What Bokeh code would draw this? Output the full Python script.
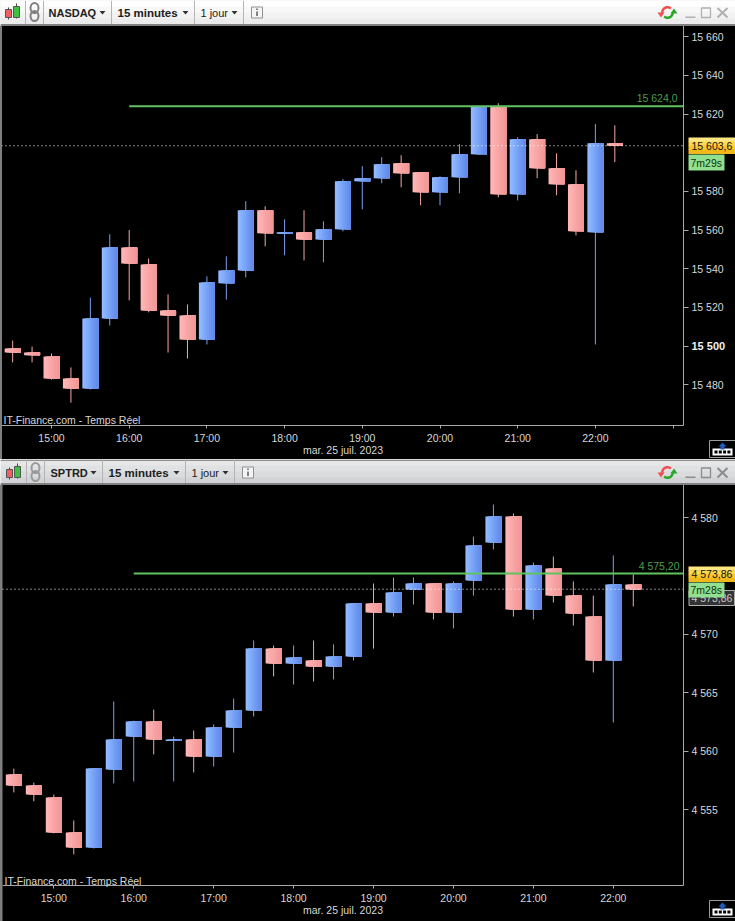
import math
from bokeh.plotting import figure
from bokeh.layouts import column
from bokeh.models import (Range1d, FixedTicker, BoxAnnotation, Label, PolyAnnotation)
from bokeh.core.properties import value
from bokeh.embed import file_html
from bokeh.resources import INLINE

FONT = "Liberation Sans"

# hours of the day, 15-minute candles from 14:30 to 22:15
hours = [14.5 + 0.25 * i for i in range(32)]
hour_ticks = [15, 16, 17, 18, 19, 20, 21, 22, 23]
hour_labels = ["15:00", "16:00", "17:00", "18:00", "19:00", "20:00", "21:00", "22:00", ""]
date_label = "mar. 25 juil. 2023"
source_label = "IT-Finance.com - Temps Réel"

nq_open = [15498.7, 15496.6, 15494.6, 15483.2, 15478.0, 15514.2, 15551.0, 15542.2, 15518.4, 15515.8, 15503.4, 15532.4,
           15539.1, 15570.2, 15558.3, 15558.8, 15555.1, 15560.4, 15585.2, 15586.8, 15594.6, 15589.9, 15579.5, 15587.3,
           15599.2, 15623.6, 15578.5, 15607.0, 15592.0, 15583.7, 15558.8, 15604.9]
nq_close = [15496.6, 15495.2, 15483.2, 15478.0, 15514.2, 15551.0, 15542.7, 15518.4, 15515.8, 15503.4, 15532.9, 15539.1,
            15570.2, 15558.3, 15558.8, 15555.1, 15560.4, 15585.2, 15586.8, 15594.0, 15589.4, 15579.5, 15587.3, 15599.2,
            15623.6, 15578.5, 15607.0, 15592.0, 15583.7, 15559.3, 15604.9, 15603.6]
nq_high = [15502.8, 15499.7, 15496.1, 15488.9, 15525.0, 15557.8, 15560.0, 15545.3, 15526.7, 15521.5, 15536.0, 15546.4,
           15574.9, 15572.3, 15565.5, 15570.2, 15564.5, 15586.3, 15593.0, 15597.7, 15598.7, 15589.9, 15587.8, 15604.4,
           15624.1, 15625.6, 15608.0, 15609.6, 15599.7, 15590.9, 15614.8, 15614.2]
nq_low = [15491.5, 15491.5, 15482.6, 15470.7, 15477.5, 15510.6, 15523.6, 15517.4, 15496.6, 15493.5, 15500.8, 15524.0,
          15535.5, 15551.6, 15546.9, 15544.3, 15543.3, 15559.3, 15570.7, 15584.2, 15582.1, 15572.8, 15572.8, 15579.0,
          15598.9, 15576.9, 15575.3, 15586.8, 15578.0, 15557.2, 15500.8, 15595.1]
nq_ticks = [15480, 15500, 15520, 15540, 15560, 15580, 15620, 15640, 15660]
nq_tick_labels = ["15 480", "", "15 520", "15 540", "15 560", "15 580", "15 620", "15 640", "15 660"]

sp_open = [4558.0, 4557.05, 4556.03, 4553.03, 4551.75, 4558.42, 4561.25, 4562.53, 4560.9, 4561.0, 4559.54, 4562.02,
           4563.48, 4568.78, 4567.5, 4567.76, 4567.24, 4568.1, 4572.64, 4571.87, 4573.84, 4574.35, 4571.87, 4574.61,
           4577.86, 4580.09, 4572.12, 4575.63, 4573.32, 4571.52, 4567.76, 4574.26]
sp_close = [4557.05, 4556.28, 4553.03, 4551.75, 4558.5, 4561.0, 4562.53, 4561.0, 4561.0, 4559.54, 4562.02, 4563.48,
            4568.78, 4567.5, 4568.01, 4567.24, 4568.1, 4572.64, 4571.87, 4573.58, 4574.35, 4571.87, 4574.35, 4577.6,
            4580.09, 4572.12, 4575.89, 4573.32, 4571.78, 4567.76, 4574.26, 4573.84]
sp_high = [4558.5, 4557.3, 4556.28, 4554.06, 4558.5, 4564.25, 4562.6, 4563.56, 4561.25, 4561.76, 4562.28, 4564.5,
           4569.47, 4569.04, 4569.04, 4569.47, 4569.13, 4572.64, 4574.35, 4574.86, 4574.86, 4574.35, 4574.52, 4578.37,
           4581.11, 4580.34, 4576.15, 4576.66, 4574.52, 4573.32, 4576.75, 4575.12]
sp_low = [4556.46, 4555.7, 4552.95, 4551.15, 4551.66, 4557.23, 4557.4, 4559.71, 4557.4, 4558.17, 4558.68, 4559.88,
          4562.96, 4566.39, 4565.7, 4565.96, 4566.13, 4567.76, 4568.78, 4571.52, 4572.55, 4571.27, 4570.5, 4573.32,
          4577.26, 4571.52, 4571.27, 4572.72, 4570.75, 4566.73, 4562.45, 4572.38]
sp_ticks = [4555, 4560, 4565, 4570, 4580]
sp_tick_labels = ["4 555", "4 560", "4 565", "4 570", "4 580"]

BLUE = ["#92baff", "#8ab3ff", "#82acfc", "#7ba5f8", "#749ef4", "#6d97f0", "#6791ec", "#628cea"]
RED = ["#ffb6b6", "#feb1b1", "#fcacac", "#faa7a7", "#f8a3a3", "#f69f9f", "#f49b9b", "#f29797"]
WICK_UP, WICK_DN = "#7d9ff0", "#f2a6a6"
GREEN = "#5fc45f"
AXIS = "#a8a8a8"
TXT = "#d8d8d8"
YEL = ["#ffe680", "#fdd850", "#f8c830", "#f0b818"]
TICK_PX = "10.5px"


def box(p, l, r, t, b, fill, line=None, lw=1):
    p.add_layout(BoxAnnotation(left=l, right=r, top=t, bottom=b, left_units="canvas", right_units="canvas",
                               top_units="canvas", bottom_units="canvas", fill_color=fill, fill_alpha=1 if fill else 0,
                               line_color=line, line_width=lw, line_alpha=1 if line else 0, level="annotation"))


def label(p, x, y, text, color=TXT, size=TICK_PX, style="normal", align="left"):
    p.add_layout(Label(x=x, y=y, x_units="canvas", y_units="canvas", text=text, text_color=color,
                       text_font=FONT, text_font_size=size, text_font_style=style, text_align=align,
                       text_baseline="middle", level="annotation"))


def chart(height, px_hour, x15, v_ref, y_ref, px_val, y_top, opens, closes, highs, lows, ticks, tick_labels,
          xticks, axis_y, left_x, level, last):
    """x15: page x of 15:00; (v_ref, y_ref, px_val): price scale; y_top: page y of the figure top."""
    to_h = lambda px: 15 + (px - x15) / px_hour
    to_v = lambda py: v_ref + (y_ref - py) / px_val
    x0, x1 = to_h(0), to_h(735)
    y1, y0 = to_v(y_top), to_v(y_top + height)
    right_h, left_h = to_h(683), to_h(left_x)
    p = figure(width=735, height=height, x_range=Range1d(x0, x1), y_range=Range1d(y0, y1),
               y_axis_location="right", output_backend="svg", toolbar_location=None,
               background_fill_color="black", border_fill_color="black", outline_line_color=None,
               min_border=0, min_border_left=0, min_border_right=0, min_border_top=0, min_border_bottom=0)
    p.grid.visible = False
    ax = p.xaxis[0]
    ax.fixed_location = to_v(axis_y)
    ax.bounds = (left_h, right_h)
    ax.ticker = FixedTicker(ticks=xticks)
    ax.major_label_overrides = dict(zip(hour_ticks, hour_labels))
    ax.major_label_standoff = 3
    ax.major_tick_out = 3
    ax.major_tick_in = 0
    ax.minor_tick_line_color = None
    ay = p.yaxis[0]
    ay.fixed_location = right_h
    ay.bounds = (to_v(axis_y), y1)
    ay.ticker = FixedTicker(ticks=ticks)
    ay.major_label_overrides = dict(zip(ticks, tick_labels))
    ay.major_tick_out = 5
    ay.major_tick_in = 0
    ay.minor_tick_line_color = None
    ay.major_label_standoff = 3
    for a in (ax, ay):
        a.axis_line_color = AXIS
        a.major_tick_line_color = AXIS
        a.major_label_text_color = TXT
        a.major_label_text_font = FONT
        a.major_label_text_font_size = TICK_PX

    half = 8.0 / px_hour
    wick_col = [WICK_UP if c >= o else WICK_DN for o, c in zip(opens, closes)]
    p.segment(x0=hours, x1=hours, y0=lows, y1=highs, color=wick_col, line_width=1)
    tops = [max(o, c) for o, c in zip(opens, closes)]
    bots = [min(o, c) for o, c in zip(opens, closes)]
    min_h = 1.5 / px_val
    bots = [t - min_h if t - b < min_h else b for t, b in zip(tops, bots)]
    for k in range(8):
        lefts = [h - half + k * 2.0 / px_hour for h in hours]
        rights = [h + half for h in hours]
        cols = [BLUE[k] if c >= o else RED[k] for o, c in zip(opens, closes)]
        p.quad(left=lefts, right=rights, top=tops, bottom=bots, fill_color=cols, line_color=None)

    p.segment(x0=[16.0], x1=[right_h], y0=[level], y1=[level], color=GREEN, line_width=2)
    p.segment(x0=[left_h], x1=[right_h], y0=[last], y1=[last], color="white", line_width=1, line_dash="1 3")
    return p


def corner_icon(p, top):
    box(p, 709, 736, top, top + 17, None, "#9a9a9a")
    box(p, 712, 732, top + 8, top + 15, "white")
    for i in range(4):
        box(p, 714 + i * 4.3, 717 + i * 4.3, top + 10, top + 13, "black")
    p.add_layout(PolyAnnotation(xs=[722, 726, 724, 724, 720, 720, 718], ys=[top + 2, top + 6, top + 6, top + 9, top + 9, top + 6, top + 6],
                                xs_units="canvas", ys_units="canvas", fill_color="#1e5bc0", fill_alpha=1,
                                line_color=None, level="annotation"))


def arc(cx, cy, r0, r1, a0, a1):
    steps = [a0 + (a1 - a0) * i / 14 for i in range(15)]
    xs = [cx + r1 * math.cos(math.radians(a)) for a in steps] + [cx + r0 * math.cos(math.radians(a)) for a in reversed(steps)]
    ys = [cy - r1 * math.sin(math.radians(a)) for a in steps] + [cy - r0 * math.sin(math.radians(a)) for a in reversed(steps)]
    return xs, ys


def chrome(height, tops, seps, name, name_x, min_x, jour_x, info_x, active):
    c = figure(width=735, height=height, x_range=Range1d(0, 735), y_range=Range1d(height, 0),
               output_backend="svg", toolbar_location=None, min_border=0, outline_line_color=None,
               border_fill_color="#dddddd", background_fill_color="#eeeeee")
    c.axis.visible = False
    c.grid.visible = False
    n = len(tops)
    step = (height - 1.0) / n
    c.quad(left=0, right=735, top=[i * step for i in range(n)], bottom=[(i + 1) * step + 0.5 for i in range(n)],
           fill_color=tops, line_color=None)
    c.quad(left=0, right=735, top=height - 1.5, bottom=height, fill_color="#808080", line_color=None)
    if not active:
        c.quad(left=0, right=735, top=0, bottom=1.5, fill_color="#909090", line_color=None)
    c.segment(x0=seps, x1=seps, y0=0, y1=height - 1.5, color="#b4b4b4", line_width=1)
    yc = height / 2 - 0.5 + (1 if not active else 0)
    x = seps[0] - 20
    c.segment(x0=[x + 3, x + 11], x1=[x + 3, x + 11], y0=[yc - 5, yc - 9], y1=[yc + 7, yc + 6], color="#444444")
    c.quad(left=[x, x + 8], right=[x + 6, x + 14], top=[yc - 3, yc - 6], bottom=[yc + 5, yc + 5],
           fill_color=["#f06060", "#40c040"], line_color="#555555")
    lx = seps[0] + 9
    col = "#808080" if active else "#9a9a9a"
    for dy in (-4.5, 3.5):
        c.ellipse(x=[lx], y=[yc + dy], width=8, height=10, fill_color=None, line_color=col, line_width=2)
    for (txt, tx, st, sz) in ((name, name_x, "bold", "11px"), ("15 minutes", min_x, "bold", "11.5px"), ("1 jour", jour_x, "normal", "11px")):
        c.text(x=[tx], y=[yc], text=[txt], text_font=value(FONT), text_font_size=sz, text_font_style=st,
               text_color="#202020", text_baseline="middle")
    for ax_ in (seps[2] - 9, seps[3] - 9, seps[4] - 9):
        c.patch(x=[ax_ - 3, ax_ + 3, ax_], y=[yc - 1.5, yc - 1.5, yc + 2], color="#303030", line_color=None)
    c.quad(left=info_x, right=info_x + 11, top=yc - 5.5, bottom=yc + 5.5, fill_color="#f4f4f4", line_color="#909090")
    c.quad(left=info_x + 4.5, right=info_x + 6.5, top=yc - 1, bottom=yc + 3.5, fill_color="#808080", line_color=None)
    c.quad(left=info_x + 4.5, right=info_x + 6.5, top=yc - 4, bottom=yc - 2.5, fill_color="#808080", line_color=None)
    rx, ry = arc(667, yc, 4, 6.5, 50, 185)
    c.patch(x=rx, y=ry, color="#f05050", line_color=None)
    gx, gy = arc(667, yc, 4, 6.5, 230, 365)
    c.patch(x=gx, y=gy, color="#28a828", line_color=None)
    c.patch(x=[657, 664, 660.5], y=[yc, yc, yc + 5], color="#f05050", line_color=None)
    c.patch(x=[670, 677, 673.5], y=[yc + 1, yc + 1, yc - 4], color="#28a828", line_color=None)
    wc = "#b0b0b0" if active else "#8c8c8c"
    c.quad(left=685, right=695, top=yc + 4, bottom=yc + 5.5, fill_color=wc, line_color=None)
    c.quad(left=701, right=710, top=yc - 4.5, bottom=yc + 5, fill_color=None, line_color=wc, line_width=1.3)
    c.segment(x0=[717, 717], x1=[727, 727], y0=[yc - 4.5, yc + 5], y1=[yc + 5, yc - 4.5], color=wc, line_width=2)
    return c


c1 = chrome(25, ["#fefefe", "#f8f8f8", "#f2f2f2", "#ececec"], [25, 43, 111, 194, 243], "NASDAQ", 48, 117, 200, 251, True)
p1 = chart(434, 77.7, 51, 15500, 345.5, 1.933, 25, nq_open, nq_close, nq_high, nq_low, nq_ticks, nq_tick_labels,
           hour_ticks, 425, 1, 15624.0, 15603.6)
box(p1, 0, 1.5, 0, 434, "#808080")
label(p1, 3, 394.5, source_label)
label(p1, 342.5, 424, date_label, align="center")
label(p1, 677, 72.5, "15 624,0", color="#4a9e4a", align="right")
label(p1, 691, 320.5, "15 500", color="#f0f0f0", style="bold", size="11px")
for i in range(4):
    box(p1, 688, 734.5, 112 + i * 4, 112.5 + (i + 1) * 4, YEL[i])
label(p1, 691, 120.5, "15 603,6", color="#101010")
box(p1, 688, 724, 129, 145, "#90e090")
label(p1, 690, 137, "7m29s", color="#103010")
corner_icon(p1, 415)

c2 = chrome(25, ["#e6e7e8", "#e0e1e3", "#d9dbdd", "#d1d3d6"], [26, 44, 102, 185, 234], "SPTRD", 50, 108, 191, 242, False)
p2 = chart(437, 79.93, 53.3, 4580, 517, 11.68, 484, sp_open, sp_close, sp_high, sp_low, sp_ticks, sp_tick_labels,
           hour_ticks[:-1], 885.3, 2, 4575.20, 4573.86)
box(p2, 0.5, 2, 0, 437, "#808080")
label(p2, 4, 396, source_label)
label(p2, 342.5, 425, date_label, align="center")
label(p2, 679, 81, "4 575,20", color="#4a9e4a", align="right")
box(p2, 688.5, 734, 106, 121, "#333333", "#b0b0b0")
label(p2, 691, 113.5, "4 573,86", color="#c8c8c8")
for i in range(4):
    box(p2, 688, 734.5, 82 + i * 3.75, 82.5 + (i + 1) * 3.75, YEL[i])
label(p2, 691, 89.5, "4 573,86", color="#101010")
box(p2, 688, 724, 98, 113, "#90e090")
label(p2, 690, 105.5, "7m28s", color="#103010")
corner_icon(p2, 416)

page = column(c1, p1, c2, p2, spacing=0, margin=0)
open("out.html", "w").write(file_html(page, INLINE))
